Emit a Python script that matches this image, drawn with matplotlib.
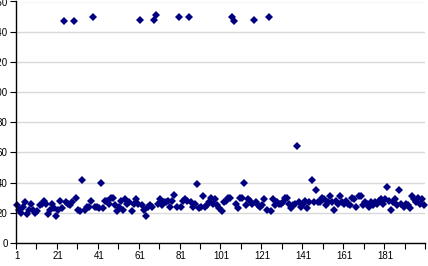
import numpy as np
import matplotlib.pyplot as plt

plt.rcParams['font.family'] = ['Liberation Sans', 'DejaVu Sans']

values = [
    25, 22, 20, 24, 27, 19, 22, 26, 22, 20,
    21, 25, 26, 28, 26, 19, 22, 26, 23, 18,
    22, 28, 23, 147, 27, 26, 25, 27, 147, 30,
    22, 21, 42, 22, 24, 24, 28, 150, 24, 24,
    23, 40, 23, 28, 28, 26, 30, 30, 25, 21,
    24, 28, 22, 29, 26, 27, 21, 26, 29, 26,
    148, 25, 22, 18, 24, 25, 24, 148, 151, 26,
    29, 25, 27, 27, 28, 24, 28, 32, 24, 150,
    24, 28, 29, 28, 150, 27, 24, 26, 39, 23,
    24, 31, 24, 25, 27, 30, 26, 29, 25, 23,
    21, 27, 28, 30, 30, 150, 147, 26, 23, 30,
    30, 40, 25, 29, 28, 26, 148, 27, 25, 24,
    25, 29, 22, 150, 21, 29, 25, 27, 26, 26,
    27, 30, 30, 26, 23, 25, 26, 64, 27, 24,
    26, 28, 23, 27, 42, 27, 35, 27, 27, 30,
    29, 25, 27, 31, 27, 22, 28, 26, 31, 27,
    26, 28, 26, 25, 30, 29, 24, 31, 31, 25,
    27, 26, 24, 27, 25, 27, 26, 28, 29, 26,
    29, 37, 28, 22, 27, 29, 25, 35, 26, 24,
    26, 25, 23, 31, 29, 27, 30, 26, 29, 25,
]
x = np.arange(1, len(values) + 1)
xlabels = [1, 21, 41, 61, 81, 101, 121, 141, 161, 181]
yticks = [0, 20, 40, 60, 80, 100, 120, 140, 160]

fig = plt.figure(figsize=(4.28, 2.66), dpi=100)
ax = fig.add_axes([16 / 428, 23 / 266, 409 / 428, 241.5 / 266])

ax.plot(x, values, linestyle='none', marker='D', markersize=3.6,
        color='#000080', markeredgewidth=0, clip_on=False)

ax.set_xlim(0.5, len(values) + 0.5)
ax.set_ylim(0, 160)

ax.set_yticks(yticks)
ax.yaxis.grid(True, color='#d9d9d9', linewidth=1)
ax.set_axisbelow(True)

# labels on categories, tick marks between them every 10
ax.set_xticks(xlabels)
ax.set_xticks(np.arange(0.5, len(values) + 1, 10), minor=True)
ax.tick_params(axis='x', which='major', length=0, pad=6, labelsize=7)
ax.tick_params(axis='x', which='minor', length=4, width=0.8, direction='out')
ax.tick_params(axis='y', length=4, width=0.8, pad=2, labelsize=7)

for side in ['top', 'right']:
    ax.spines[side].set_visible(False)
for side in ['left', 'bottom']:
    ax.spines[side].set_color('black')
    ax.spines[side].set_linewidth(1)

fig.savefig('out.png', dpi=100)
